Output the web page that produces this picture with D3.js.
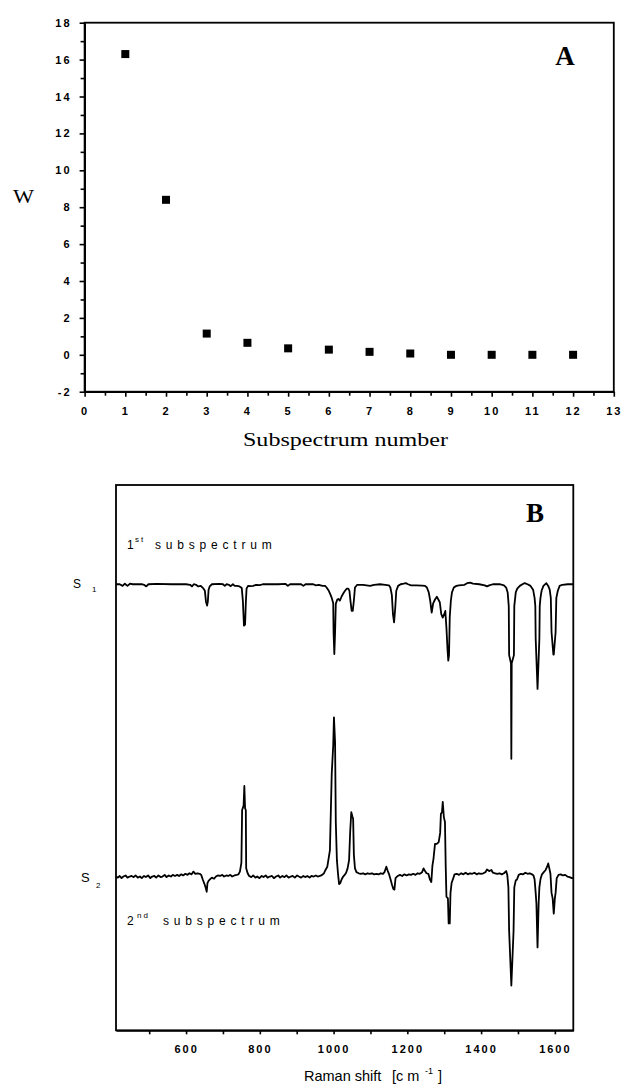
<!DOCTYPE html>
<html>
<head>
<meta charset="utf-8">
<script src="https://cdn.jsdelivr.net/npm/d3@7"></script>
<style>
  body { margin: 0; background: #fff; }
  .tick text { font-family: "Liberation Sans", Arial, sans-serif; font-weight: bold; font-size: 11px; letter-spacing: 2px; fill: #000; }
  .tick line, .domain { stroke: #000; stroke-width: 1.6; }
  .serif { font-family: "Liberation Serif", "Times New Roman", serif; fill: #000; }
  .sans { font-family: "Liberation Sans", Arial, sans-serif; fill: #000; }
</style>
</head>
<body>
<svg width="621" height="1085"></svg>
<script>
// panel A: weight of each subspectrum
var subspectrum = [1, 2, 3, 4, 5, 6, 7, 8, 9, 10, 11, 12];
var weightW = [16.3, 8.4, 1.15, 0.65, 0.35, 0.28, 0.16, 0.07, 0.0, 0.0, 0.0, 0.0];
var xTicksA = d3.range(0, 14);
var yTicksA = d3.range(-2, 19, 2);

// panel B: Raman shift [cm-1], relative intensity
var xTicksB = [600, 800, 1000, 1200, 1400, 1600];
var xMinorB = [500, 700, 900, 1100, 1300, 1500];
var offsets = [81.8, 28.2]; // baseline of S1, S2
var spectrum1 = [[410,0],[420,0],[428,-0.3],[434,0.1],[441,-0.3],[448,0.1],[455,0],[480,0],[486,-0.1],[492,-0.4],[498,0],[520,0.05],[560,0],[600,0],[611,-0.1],[616,-0.4],[621,0],[627,-0.1],[633,-0.4],[640,-0.3],[646,-0.7],[651,-1.2],[654,-3.2],[657,-3.9],[659,-3.2],[661,-1.0],[664,-0.4],[670,0],[690,0.05],[700,0],[705,-0.3],[710,0],[716,-0.1],[721,-0.35],[727,0],[732,-0.3],[738,-0.3],[745,-0.4],[751,-0.7],[754,-3],[757,-7.6],[760,-7.4],[762,-3.5],[764,-0.8],[768,-0.3],[775,-0.35],[782,-0.3],[790,-0.1],[800,-0.15],[808,0],[830,0],[850,0],[870,0.05],[876,-0.3],[882,0],[900,0],[912,0],[918,-0.3],[924,0],[945,0],[952,-0.2],[960,-0.1],[970,-0.3],[977,-0.3],[981,-0.6],[987,-1.2],[991,-1.8],[995,-2.5],[999,-3.5],[1000,-9],[1002,-12.8],[1004,-9],[1006,-3.6],[1010,-2.8],[1013,-2.7],[1017,-3.0],[1022,-2.2],[1027,-1.6],[1031,-1.2],[1036,-0.8],[1040,-0.8],[1043,-1.2],[1046,-3.2],[1049,-4.9],[1052,-4.9],[1055,-3.0],[1058,-0.6],[1064,-0.1],[1080,-0.1],[1099,-0.3],[1110,-0.1],[1126,0],[1140,-0.1],[1150,-0.2],[1154,-0.6],[1158,-2],[1161,-5.5],[1164,-7.0],[1167,-4.5],[1170,-1.2],[1175,-0.3],[1182,0],[1190,0.1],[1196,0.2],[1202,0],[1210,-0.2],[1225,-0.2],[1240,-0.25],[1248,-0.3],[1253,-0.6],[1258,-1.5],[1262,-3],[1266,-5.2],[1270,-3.5],[1275,-2.8],[1280,-2.3],[1284,-2.8],[1288,-3.3],[1292,-5.5],[1296,-6.1],[1300,-5.5],[1303,-4.9],[1306,-8],[1309,-12],[1311,-14],[1313,-13],[1315,-6],[1318,-3],[1321,-1.5],[1326,-0.6],[1333,-0.3],[1340,-0.2],[1355,-0.1],[1362,0.2],[1370,0.3],[1378,0.1],[1395,0],[1410,-0.2],[1416,-0.4],[1422,-0.2],[1432,0],[1450,0],[1462,-0.2],[1468,-0.6],[1472,-1.5],[1475,-4],[1476,-13],[1481,-14.5],[1482,-32],[1483,-14.5],[1489,-13],[1490,-4],[1494,-1.5],[1498,-0.8],[1505,-0.3],[1512,0],[1518,0.2],[1526,0],[1534,-0.3],[1541,-1.0],[1545,-2.5],[1547,-4],[1548,-10],[1553,-19.2],[1558,-10],[1559,-4],[1561,-2.5],[1564,-1.2],[1569,-0.3],[1577,0.2],[1582,-0.3],[1586,-1.0],[1589,-2.5],[1591,-8.8],[1596,-12.9],[1597,-12.9],[1602,-8.8],[1604,-2.5],[1608,-1.2],[1613,-0.3],[1620,-0.1],[1635,0],[1650,0]];
var spectrum2 = [[410,0],[415,-0.2],[420,0.1],[425,-0.3],[430,0],[436,0.2],[441,-0.2],[447,0],[452,0.1],[458,-0.1],[463,0.2],[469,-0.2],[475,0],[480,-0.3],[486,0.1],[491,-0.1],[497,0.2],[503,-0.3],[508,0],[514,0.1],[519,-0.2],[525,0.2],[531,-0.1],[536,0],[542,0.3],[547,-0.1],[553,0.2],[559,0],[564,0.3],[570,0.1],[576,0.3],[581,0.1],[587,0.4],[592,0.2],[598,0.5],[604,0.3],[609,0.6],[615,0.4],[620,0.9],[625,0.5],[631,0.6],[637,0.5],[641,0.3],[645,-0.5],[649,-1.2],[653,-2.0],[656,-2.8],[658,-1.2],[661,-0.8],[665,-0.5],[670,-0.2],[676,-0.4],[681,0],[686,0.2],[692,0.1],[698,0.3],[703,0],[709,0.2],[714,0.1],[720,0.3],[725,0],[731,0.2],[737,0.3],[742,0.4],[746,0.9],[750,2.5],[752,12.2],[756,13],[758,16.6],[760,12.5],[762,12.2],[763,1.5],[767,0.6],[771,0.1],[777,-0.1],[782,0.2],[788,-0.2],[793,0],[799,-0.3],[805,0.1],[810,-0.1],[816,0.2],[821,-0.2],[827,0],[833,0.1],[838,-0.3],[844,0],[850,0.2],[855,-0.2],[861,0.1],[867,-0.1],[872,0.2],[878,-0.2],[884,0],[889,0.1],[895,-0.2],[901,0.2],[906,0],[912,-0.2],[918,0.1],[923,-0.1],[929,0.1],[935,-0.2],[940,0.1],[946,0],[952,0.2],[957,0],[963,0.1],[969,0.3],[974,0.6],[978,1.2],[983,1.8],[987,3.5],[990,4.8],[995,18.9],[999,24],[1001,29.2],[1004,24.7],[1006,10],[1009,3],[1012,0.5],[1015,-1.4],[1018,-1.2],[1022,-0.5],[1026,0],[1030,0.3],[1034,0.7],[1038,1.5],[1042,3.0],[1045,8.2],[1048,11.8],[1051,11],[1053,10.6],[1055,4],[1058,1.5],[1062,0.8],[1068,0.6],[1074,0.5],[1080,0.6],[1086,0.4],[1092,0.6],[1098,0.5],[1104,0.6],[1110,0.4],[1116,0.5],[1122,0.4],[1128,0.6],[1134,0.5],[1138,0.8],[1143,1.8],[1147,1.0],[1150,0.5],[1154,-0.4],[1158,-1.4],[1162,-2.3],[1165,-2.4],[1168,-0.3],[1174,0.1],[1180,0.3],[1186,0.1],[1192,0.4],[1198,0.2],[1204,0.4],[1210,0.3],[1216,0.5],[1222,0.3],[1228,0.6],[1234,0.5],[1240,0.8],[1244,1.5],[1248,1.0],[1252,0.6],[1257,0.5],[1261,-0.5],[1265,-1.0],[1268,2],[1271,3.3],[1275,6.0],[1280,6.0],[1285,6.3],[1289,8],[1291,11.5],[1294,11.8],[1296,13.7],[1299,10.9],[1302,10],[1304,2],[1306,-3.7],[1310,-4],[1312,-8.6],[1315,-8.6],[1317,-3],[1320,-1.2],[1324,-0.4],[1328,0.4],[1334,0.5],[1340,0.3],[1346,0.6],[1352,0.4],[1358,0.7],[1364,0.4],[1370,0.6],[1376,0.5],[1382,0.7],[1388,0.4],[1394,0.6],[1400,0.5],[1406,0.6],[1412,0.8],[1416,1.3],[1422,1.0],[1428,1.2],[1432,0.7],[1438,0.6],[1444,0.5],[1450,0.6],[1456,0.4],[1462,0.6],[1468,1.0],[1471,0.3],[1474,-2],[1476,-10],[1482,-20],[1488,-10],[1490,-2],[1494,-0.7],[1497,-0.6],[1502,0.3],[1508,0.5],[1514,0.4],[1520,0.7],[1526,0.5],[1532,0.6],[1538,0.4],[1542,0.2],[1545,-0.5],[1548,-3],[1550,-5],[1553,-13],[1556,-5],[1558,-2],[1561,-0.5],[1565,0.4],[1570,0.8],[1575,1.2],[1579,1.8],[1582,2.4],[1585,1.5],[1588,0.5],[1591,-3],[1594,-4],[1597,-6.8],[1600,-4],[1602,-3],[1605,-0.3],[1610,0.3],[1616,0.4],[1622,0.2],[1628,0.3],[1634,0],[1640,-0.1],[1646,-0.3],[1650,-0.3]];

var svg = d3.select("svg");
svg.append("rect").attr("width", 621).attr("height", 1085).attr("fill", "#fff");

/* ---------- panel A ---------- */
var xA = d3.scaleLinear().domain([0, 13]).range([84.6, 613.8]);
var yA = d3.scaleLinear().domain([-2, 18]).range([391.7, 22.7]);
var plain = function(d) { return String(d); };

var gA = svg.append("g");
gA.append("g").attr("transform", "translate(0," + yA(-2) + ")")
	.call(d3.axisBottom(xA).tickValues(d3.range(0.5, 13, 1)).tickSize(4).tickFormat("").tickSizeOuter(0));
gA.append("g").attr("transform", "translate(0," + yA(-2) + ")")
	.call(d3.axisBottom(xA).tickValues(xTicksA).tickSize(5).tickPadding(11).tickFormat(plain).tickSizeOuter(0));
gA.append("g").attr("transform", "translate(" + xA(0) + ",0)")
	.call(d3.axisLeft(yA).tickValues(d3.range(-1, 18, 2)).tickSize(4).tickFormat("").tickSizeOuter(0));
gA.append("g").attr("transform", "translate(" + xA(0) + ",0)")
	.call(d3.axisLeft(yA).tickValues(yTicksA).tickSize(5).tickPadding(8).tickFormat(plain).tickSizeOuter(0));

gA.append("rect")
	.attr("x", xA(0)).attr("y", yA(18))
	.attr("width", xA(13) - xA(0)).attr("height", yA(-2) - yA(18))
	.attr("fill", "none").attr("stroke", "#000").attr("stroke-width", 1.8);

gA.selectAll("rect.pt")
	.data(subspectrum)
	.enter().append("rect")
		.attr("class", "pt")
		.attr("x", function(d) { return xA(d) - 4; })
		.attr("y", function(d, i) { return yA(weightW[i]) - 4; })
		.attr("width", 8).attr("height", 8)
		.attr("fill", "#000");

gA.append("text").attr("class", "serif")
	.attr("x", 13).attr("y", 203)
	.attr("font-size", 18).attr("textLength", 21).attr("lengthAdjust", "spacingAndGlyphs")
	.text("W");
gA.append("text").attr("class", "serif")
	.attr("x", 243).attr("y", 446)
	.attr("font-size", 19).attr("textLength", 205).attr("lengthAdjust", "spacingAndGlyphs")
	.text("Subspectrum number");
gA.append("text").attr("class", "serif")
	.attr("x", 565).attr("y", 65).attr("text-anchor", "middle")
	.attr("font-size", 27).attr("font-weight", "bold")
	.text("A");

/* ---------- panel B ---------- */
var xB = d3.scaleLinear().domain([410, 1650]).range([116, 573.3]);
var yB = d3.scaleLinear().domain([0, 100]).range([1030.3, 485]);

var gB = svg.append("g");
gB.append("g").attr("transform", "translate(0," + yB(0) + ")")
	.call(d3.axisBottom(xB).tickValues(xMinorB).tickSize(4).tickFormat("").tickSizeOuter(0));
gB.append("g").attr("transform", "translate(0," + yB(0) + ")")
	.call(d3.axisBottom(xB).tickValues(xTicksB).tickSize(4).tickPadding(11).tickFormat(plain).tickSizeOuter(0));

gB.append("rect")
	.attr("x", xB(410)).attr("y", yB(100))
	.attr("width", xB(1650) - xB(410)).attr("height", yB(0) - yB(100))
	.attr("fill", "none").attr("stroke", "#000").attr("stroke-width", 1.8);

var spectra = [spectrum1, spectrum2];
spectra.forEach(function(spec, k) {
	var line = d3.line()
		.x(function(d) { return xB(d[0]); })
		.y(function(d) { return yB(offsets[k] + d[1]); });
	gB.append("path")
		.datum(spec)
		.attr("d", line)
		.attr("fill", "none")
		.attr("stroke", "#000")
		.attr("stroke-width", 1.8)
		.attr("stroke-linejoin", "round");
});

// spectrum labels
var lab1 = gB.append("text").attr("class", "sans").attr("font-size", 12);
lab1.append("tspan").attr("x", 127).attr("y", 549).text("1");
lab1.append("tspan").attr("x", 135).attr("y", 542).attr("font-size", 8).attr("letter-spacing", 2).text("st");
lab1.append("tspan").attr("x", 155).attr("y", 549).attr("letter-spacing", 4.8).text("subspectrum");

var lab2 = gB.append("text").attr("class", "sans").attr("font-size", 12);
lab2.append("tspan").attr("x", 127).attr("y", 925).text("2");
lab2.append("tspan").attr("x", 137).attr("y", 918).attr("font-size", 8).attr("letter-spacing", 2).text("nd");
lab2.append("tspan").attr("x", 163).attr("y", 925).attr("letter-spacing", 4.8).text("subspectrum");

var s1 = gB.append("text").attr("class", "sans").attr("font-size", 12);
s1.append("tspan").attr("x", 73).attr("y", 588).text("S");
s1.append("tspan").attr("x", 92).attr("y", 592).attr("font-size", 8).text("1");
var s2 = gB.append("text").attr("class", "sans").attr("font-size", 13);
s2.append("tspan").attr("x", 81).attr("y", 882).text("S");
s2.append("tspan").attr("x", 96).attr("y", 888).attr("font-size", 8).text("2");

var xl = gB.append("text").attr("class", "sans").attr("font-size", 14.5);
xl.append("tspan").attr("x", 304).attr("y", 1081).text("Raman shift");
xl.append("tspan").attr("x", 392).attr("y", 1081).text("[c m");
xl.append("tspan").attr("x", 425).attr("y", 1074).attr("font-size", 9).text("-1");
xl.append("tspan").attr("x", 438).attr("y", 1081).text("]");

gB.append("text").attr("class", "serif")
	.attr("x", 535).attr("y", 522).attr("text-anchor", "middle")
	.attr("font-size", 27).attr("font-weight", "bold")
	.text("B");
</script>
</body>
</html>
